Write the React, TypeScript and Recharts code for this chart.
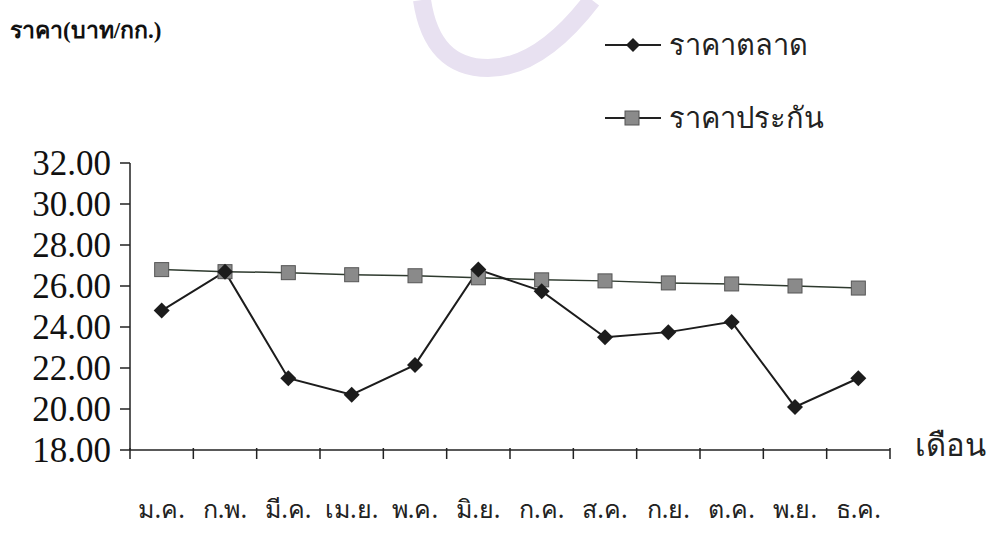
import { LineChart, Line, XAxis, YAxis } from "recharts"

const months = ["ม.ค.", "ก.พ.", "มี.ค.", "เม.ย.", "พ.ค.", "มิ.ย.", "ก.ค.", "ส.ค.", "ก.ย.", "ต.ค.", "พ.ย.", "ธ.ค."]
const marketPrice = [24.8, 26.7, 21.5, 20.7, 22.15, 26.8, 25.75, 23.5, 23.75, 24.25, 20.1, 21.5]
const guaranteePrice = [26.8, 26.7, 26.65, 26.55, 26.5, 26.4, 26.3, 26.25, 26.15, 26.1, 26.0, 25.9]
const yTicks = [18, 20, 22, 24, 26, 28, 30, 32]

const data = months.map((m, i) => ({
  month: m,
  market: marketPrice[i],
  guarantee: guaranteePrice[i],
}))

const W = 1005
const H = 556
const M_LEFT = 130
const M_RIGHT = 115
const BAND = (W - M_LEFT - M_RIGHT) / months.length

const serif = '"Liberation Serif", "DejaVu Serif", serif'
const thai = '"Noto Sans", "DejaVu Sans", sans-serif'

function Diamond(props: any) {
  const { cx, cy } = props
  if (cx == null || cy == null) return null
  const r = 8
  return (
    <polygon
      points={`${cx},${cy - r} ${cx + r},${cy} ${cx},${cy + r} ${cx - r},${cy}`}
      fill="#1c1c1c"
    />
  )
}

function Square(props: any) {
  const { cx, cy } = props
  if (cx == null || cy == null) return null
  const s = 7
  return (
    <rect x={cx - s} y={cy - s} width={s * 2} height={s * 2} fill="#8a8a8a" stroke="#555" strokeWidth={1} />
  )
}

// label sits in the middle of the band, tick marks go on the band edges
function MonthTick(props: any) {
  const { x, y, payload, index } = props
  const left = x - BAND / 2
  const right = x + BAND / 2
  const top = y - 4
  return (
    <g>
      <line x1={left} y1={top} x2={left} y2={top + 11} stroke="#222" strokeWidth={1.5} />
      {index === months.length - 1 && (
        <line x1={right} y1={top} x2={right} y2={top + 11} stroke="#222" strokeWidth={1.5} />
      )}
      <text x={x} y={y + 66} textAnchor="middle" fontSize={25} fontFamily={thai} fill="#222">
        {payload.value}
      </text>
    </g>
  )
}

function ChartLegend() {
  const items = [
    { label: "ราคาตลาด", y: 22, kind: "diamond" },
    { label: "ราคาประกัน", y: 95, kind: "square" },
  ]
  return (
    <>
      {items.map((it) => (
        <div key={it.label} style={{ position: "absolute", top: it.y, left: 603, display: "flex", alignItems: "center" }}>
          <svg width={60} height={30}>
            <line x1={2} y1={15} x2={58} y2={15} stroke="#222" strokeWidth={2} />
            {it.kind === "diamond" ? (
              <polygon points="30,8 37,15 30,22 23,15" fill="#1c1c1c" />
            ) : (
              <rect x={22} y={8} width={14} height={14} fill="#8a8a8a" stroke="#555" />
            )}
          </svg>
          <span style={{ fontFamily: thai, fontSize: 29, color: "#222", marginLeft: 6 }}>{it.label}</span>
        </div>
      ))}
    </>
  )
}

export default function App() {
  return (
    <div style={{ position: "absolute", left: 0, top: 0, width: W, height: H, background: "#fff" }}>
      <svg width={W} height={H} style={{ position: "absolute", left: 0, top: 0 }}>
        <path d="M 422 0 Q 432 68 488 68 Q 540 68 592 0" fill="none" stroke="#e8e1f1" strokeWidth={18} />
      </svg>
      <div
        style={{
          position: "absolute",
          left: 10,
          top: 12,
          fontFamily: serif,
          fontWeight: "bold",
          fontSize: 23,
          color: "#111",
        }}
      >
        ราคา(บาท/กก.)
      </div>
      <div style={{ position: "absolute", left: 915, top: 420, fontFamily: thai, fontSize: 31, color: "#222" }}>
        เดือน
      </div>
      <ChartLegend />
      <div style={{ position: "absolute", left: 0, top: 0 }}>
        <LineChart width={W} height={H} data={data} margin={{ top: 163, right: M_RIGHT, bottom: 0, left: 0 }}>
          <XAxis
            dataKey="month"
            scale="band"
            height={106}
            tick={<MonthTick />}
            tickLine={false}
            tickSize={0}
            axisLine={{ stroke: "#222", strokeWidth: 1.5 }}
            interval={0}
          />
          <YAxis
            domain={[18, 32]}
            ticks={yTicks}
            interval={0}
            width={M_LEFT}
            tickSize={10}
            tickMargin={9}
            tickFormatter={(v: number) => v.toFixed(2)}
            tick={{ fontSize: 35, fontFamily: serif, fill: "#111" }}
            axisLine={{ stroke: "#222", strokeWidth: 1.5 }}
            tickLine={{ stroke: "#222", strokeWidth: 1.5 }}
          />
          <Line
            dataKey="guarantee"
            stroke="#2e3a2e"
            strokeWidth={1.5}
            dot={<Square />}
            isAnimationActive={false}
          />
          <Line
            dataKey="market"
            stroke="#1c1c1c"
            strokeWidth={2}
            dot={<Diamond />}
            isAnimationActive={false}
          />
        </LineChart>
      </div>
    </div>
  )
}
